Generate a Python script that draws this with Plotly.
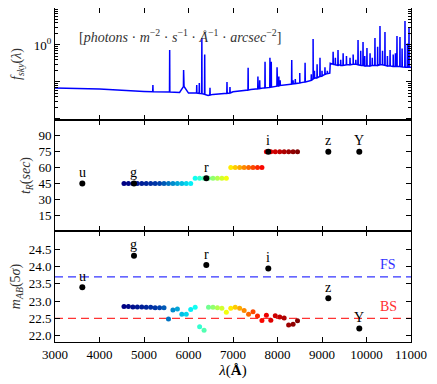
import plotly.graph_objects as go
from plotly.subplots import make_subplots

# sky spectrum: continuum knots and emission lines (wl, peak, base under the line)
cont_wl = [3000, 4000, 5000, 5800, 5900, 6000, 6440, 6550, 7000, 7400, 7700, 8000,
           8300, 8500, 8800, 9000, 9175, 9185, 9400, 9700, 10000, 10300, 10600, 11000]
cont_flux = [0.069, 0.064, 0.055, 0.052, 0.075, 0.05, 0.043, 0.046, 0.054, 0.062, 0.069, 0.078,
             0.087, 0.094, 0.12, 0.145, 0.172, 0.32, 0.29, 0.30, 0.27, 0.29, 0.26, 0.25]
line_wl = [5200, 5577, 5890, 6185, 6243, 6300, 6364, 6483, 6865, 6932, 7340, 7560, 7600,
           7720, 7830, 7860, 7990, 8030, 8060, 8320, 8350, 8400, 8500, 8620, 8760, 8800,
           8830, 8890, 8955, 9000, 9067, 9120, 9250, 9300, 9360, 9420, 9475, 9550, 9630,
           9700, 9760, 9810, 9870, 9922, 9960, 10010, 10080, 10130, 10190, 10250, 10303,
           10360, 10415, 10470, 10530, 10600, 10650, 10685, 10752, 10800, 10865, 10920, 10955]
line_peak = [0.083, 0.73, 0.21, 0.083, 0.094, 1.55, 0.55, 0.069, 0.10, 0.073, 0.24, 0.14, 0.11,
             0.35, 0.45, 0.35, 0.25, 0.14, 0.11, 0.39, 0.11, 0.12, 0.175, 0.33, 0.16, 1.45,
             0.20, 0.30, 0.45, 0.20, 0.25, 0.20, 0.65, 0.45, 0.73, 0.40, 0.60, 0.50, 0.45,
             0.55, 0.40, 1.37, 0.70, 1.20, 0.50, 0.83, 0.60, 0.45, 1.55, 0.90, 3.26,
             0.70, 2.25, 0.50, 0.73, 0.55, 0.60, 1.75, 1.65, 0.80, 4.46, 1.10, 3.07]
line_base = [0.054, 0.053, 0.075, 0.05, 0.049, 0.048, 0.046, 0.044, 0.049, 0.05, 0.06, 0.065, 0.066,
             0.069, 0.071, 0.072, 0.077, 0.078, 0.08, 0.087, 0.088, 0.09, 0.094, 0.10, 0.11, 0.12,
             0.125, 0.13, 0.14, 0.145, 0.16, 0.168, 0.30, 0.29, 0.28, 0.28, 0.28, 0.29, 0.29,
             0.30, 0.30, 0.29, 0.28, 0.28, 0.27, 0.27, 0.27, 0.28, 0.28, 0.28, 0.29,
             0.29, 0.28, 0.27, 0.27, 0.26, 0.26, 0.26, 0.26, 0.255, 0.25, 0.25, 0.25]

# broad bands
bb_names = ["u", "g", "r", "i", "z", "Y"]
bb_wl = [3614, 4775, 6400, 7793, 9142, 9838]
bb_time = [45, 45, 50, 75, 75, 75]
bb_mag = [23.40, 24.31, 24.04, 23.94, 23.08, 22.21]

# 40 narrow bands
nb_wl = [4550 + 100 * k for k in range(40)]
nb_time = [45] * 16 + [50] * 8 + [60] * 8 + [75] * 8
nb_mag = [22.84, 22.84, 22.83, 22.83, 22.83, 22.82, 22.82, 22.81, 22.81, 22.81,
          22.48, 22.74, 22.77, 22.62, 22.62, 22.76, 22.82, 22.26, 22.16, 22.82,
          22.82, 22.81, 22.79, 22.68, 22.79, 22.82, 22.79, 22.73, 22.62, 22.69,
          22.57, 22.44, 22.59, 22.45, 22.58, 22.54, 22.51, 22.31, 22.33, 22.43]

fs_limit = 23.7
bs_limit = 22.5

x_ticks = [3000, 4000, 5000, 6000, 7000, 8000, 9000, 10000, 11000]

pts = list(zip(cont_wl, cont_flux))
for w, p, b in zip(line_wl, line_peak, line_base):
    pts += [(w - 4, b), (w, p), (w + 4, b)]
pts.sort()
sky_wl = [p[0] for p in pts]
sky_flux = [p[1] for p in pts]

SERIF = "Liberation Serif"

fig = make_subplots(rows=3, cols=1, shared_xaxes=True, vertical_spacing=0)

fig.add_trace(go.Scatter(x=sky_wl, y=sky_flux, mode="lines",
                         line=dict(color="#0000ff", width=1.5)), row=1, col=1)

fig.add_trace(go.Scatter(x=nb_wl, y=nb_time, mode="markers",
                         marker=dict(size=5, color=nb_wl, colorscale="Jet",
                                     cmin=nb_wl[0], cmax=nb_wl[-1], line=dict(width=0))),
              row=2, col=1)
fig.add_trace(go.Scatter(x=bb_wl, y=bb_time, mode="markers",
                         marker=dict(size=6, color="black")), row=2, col=1)

fig.add_trace(go.Scatter(x=[3000, 11000], y=[fs_limit, fs_limit], mode="lines",
                         line=dict(color="rgba(0,0,255,0.8)", width=1.3, dash="8px,5px")),
              row=3, col=1)
fig.add_trace(go.Scatter(x=[3000, 11000], y=[bs_limit, bs_limit], mode="lines",
                         line=dict(color="rgba(255,0,0,0.8)", width=1.3, dash="8px,5px")),
              row=3, col=1)
fig.add_trace(go.Scatter(x=nb_wl, y=nb_mag, mode="markers",
                         marker=dict(size=5, color=nb_wl, colorscale="Jet",
                                     cmin=nb_wl[0], cmax=nb_wl[-1], line=dict(width=0))),
              row=3, col=1)
fig.add_trace(go.Scatter(x=bb_wl, y=bb_mag, mode="markers",
                         marker=dict(size=6, color="black")), row=3, col=1)

for name, w, t, m in zip(bb_names, bb_wl, bb_time, bb_mag):
    fig.add_annotation(x=w, y=t, xref="x2", yref="y2", text=name, showarrow=False,
                       yshift=11, font=dict(family=SERIF, size=14, color="black"))
    fig.add_annotation(x=w, y=m, xref="x3", yref="y3", text=name, showarrow=False,
                       yshift=11, font=dict(family=SERIF, size=14, color="black"))

fig.add_annotation(x=10250, y=fs_limit, xref="x3", yref="y3", text="FS", showarrow=False,
                   yshift=12, xanchor="left", font=dict(family=SERIF, size=14, color="#3030ff"))
fig.add_annotation(x=10250, y=bs_limit, xref="x3", yref="y3", text="BS", showarrow=False,
                   yshift=12, xanchor="left", font=dict(family=SERIF, size=14, color="#ff3030"))

fig.add_annotation(x=3494, y=0.85, xref="x", yref="y domain", xanchor="left",
                   text="[<i>photons</i> · <i>m</i><sup>−2</sup> · <i>s</i><sup>−1</sup> · "
                        "<i>Å</i><sup>−1</sup> · <i>arcsec</i><sup>−2</sup>]",
                   showarrow=False, font=dict(family=SERIF, size=14, color="#333333"))

axis_style = dict(showline=True, linecolor="black", linewidth=1, mirror="allticks",
                  ticks="inside", ticklen=5, tickcolor="black", showgrid=False,
                  zeroline=False, automargin=False,
                  tickfont=dict(family=SERIF, size=13, color="black"))

for r in (1, 2, 3):
    fig.update_xaxes(range=[3000, 11000], tickvals=x_ticks, ticktext=[str(v) for v in x_ticks],
                     row=r, col=1, **axis_style)

fig.update_xaxes(title=dict(text="<i>λ</i>(<b>Å</b>)", font=dict(family=SERIF, size=15, color="black"),
                            standoff=2), row=3, col=1)

minor_vals = [k * 10 ** e for e in (-2, -1, 0) for k in range(2, 10)]
fig.update_yaxes(type="log", range=[-2.03, 1.0], tickvals=[0.01, 0.1, 1, 10],
                 ticktext=["", "", "10<sup>0</sup>", ""],
                 minor=dict(tickvals=minor_vals, ticklen=3, ticks="inside", tickcolor="black"),
                 title=dict(text="<i>f</i><sub><i>sky</i></sub>(<i>λ</i>)",
                            font=dict(family=SERIF, size=14, color="#333333"), standoff=8),
                 domain=[0.6647, 1.0], row=1, col=1, **axis_style)
fig.update_yaxes(range=[0, 105], tickvals=[15, 30, 45, 60, 75, 90],
                 title=dict(text="<i>t</i><sub><i>R</i></sub>(<i>sec</i>)",
                            font=dict(family=SERIF, size=14, color="#333333"), standoff=4),
                 domain=[0.3323, 0.6647], row=2, col=1, **axis_style)
fig.update_yaxes(range=[21.82, 25.02], tickvals=[22.0, 22.5, 23.0, 23.5, 24.0, 24.5],
                 tickformat=".1f",
                 title=dict(text="<i>m</i><sub><i>AB</i></sub>(5<i>σ</i>)",
                            font=dict(family=SERIF, size=14, color="#333333"), standoff=4),
                 domain=[0.0, 0.3323], row=3, col=1, **axis_style)

# the page body adds an 8px margin, so the figure is sized to fit the window
fig.update_layout(width=429, height=376, margin=dict(l=47, r=26, t=0, b=42),
                  paper_bgcolor="white", plot_bgcolor="white", showlegend=False)

fig.write_html("out.html")
